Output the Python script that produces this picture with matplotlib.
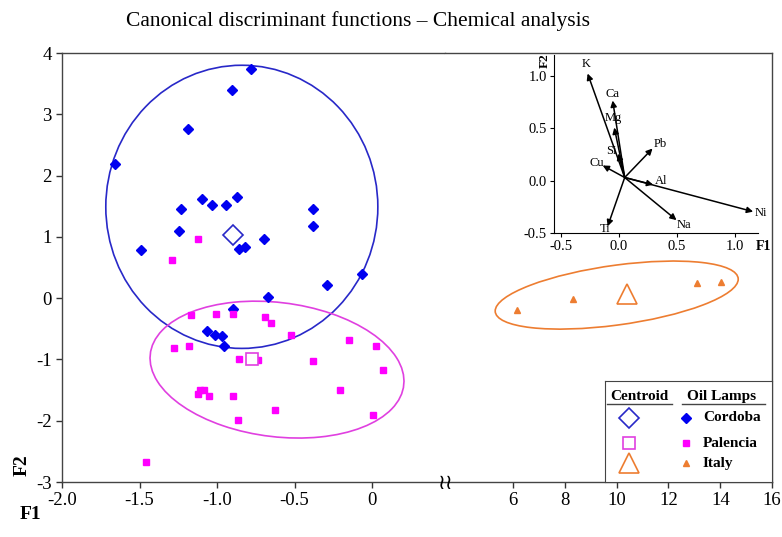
import matplotlib.pyplot as plt
from matplotlib.patches import Ellipse
import numpy as np

plt.rcParams['font.family'] = 'Liberation Serif'
plt.rcParams['axes.unicode_minus'] = False

# Oil lamps, Cordoba (F1, F2)
cordoba_f1 = [-0.781, -0.905, -1.185, -1.658, -1.097, -1.032, -0.944, -0.869, -1.230, -0.379,
              -0.379, -1.245, -0.699, -0.856, -0.817, -1.492, -0.062, -0.288, -0.671, -0.895,
              -1.062, -1.013, -0.970, -0.955]
cordoba_f2 = [3.747, 3.397, 2.757, 2.191, 1.610, 1.517, 1.517, 1.643, 1.447, 1.452,
              1.175, 1.098, 0.957, 0.804, 0.837, 0.778, 0.386, 0.212, 0.011, -0.175,
              -0.538, -0.604, -0.615, -0.783]

# Oil lamps, Palencia
palencia_f1 = [-1.123, -1.288, -1.168, -1.008, -0.895, -0.690, -0.654, -0.525, -1.275, -1.181,
               -0.856, -0.734, -0.379, -0.150, 0.026, 0.073, -0.206, -1.110, -1.082, -1.125,
               -1.054, -0.899, -0.626, -0.863, 0.008, -1.458]
palencia_f2 = [0.967, 0.620, -0.277, -0.256, -0.266, -0.310, -0.403, -0.604, -0.811, -0.783,
               -0.990, -1.007, -1.033, -0.685, -0.783, -1.179, -1.506, -1.506, -1.506, -1.571,
               -1.599, -1.599, -1.827, -1.995, -1.909, -2.675]

# Oil lamps, Italy
italy_f1 = [6.15, 8.32, 13.1, 14.03]
italy_f2 = [-0.20, -0.02, 0.24, 0.26]

# group centroids
cent_cordoba = (-0.895, 1.03)
cent_palencia = (-0.776, -0.99)
cent_italy = (10.4, 0.07)

# structure coefficients (inset)
elements = ['K', 'Ca', 'Mg', 'Si', 'Cu', 'Pb', 'Al', 'Ni', 'Na', 'Ti']
elem_f1 = [-0.27, -0.054, -0.04, -0.006, -0.14, 0.29, 0.296, 1.158, 0.497, -0.097]
elem_f2 = [1.023, 0.765, 0.507, 0.258, 0.145, 0.307, -0.039, -0.296, -0.377, -0.436]
lab_f1 = [-0.284, -0.052, -0.049, -0.069, -0.192, 0.353, 0.362, 1.224, 0.560, -0.121]
lab_f2 = [1.113, 0.823, 0.597, 0.281, 0.165, 0.346, 0.0, -0.306, -0.426, -0.461]
origin = (0.05, 0.03)

blue = '#0000F0'
blue_line = '#2828C8'
mag = '#FF00FF'
mag_line = '#E040E0'
orange = '#ED7D31'

fig = plt.figure(figsize=(7.82, 5.37), dpi=100)
axL = fig.add_axes([0.0793, 0.1024, 0.4898, 0.7989])
axR = fig.add_axes([0.5691, 0.1024, 0.4182, 0.7989])

for ax in (axL, axR):
    ax.set_ylim(-3, 4)
    ax.tick_params(direction='out', length=4, width=1, labelsize=13.5, colors='#333333', labelcolor='black')
    for s in ax.spines.values():
        s.set_color('#444444')
        s.set_linewidth(1)

axL.set_xlim(-2.0, 0.471)
axL.set_xticks([-2.0, -1.5, -1.0, -0.5, 0])
axL.set_xticklabels(['-2.0', '-1.5', '-1.0', '-0.5', '0'])
axL.set_yticks(range(-3, 5))
axL.spines['right'].set_visible(False)

axR.set_xlim(3.37, 16)
axR.set_xticks([6, 8, 10, 12, 14, 16])
axR.set_yticks([])
axR.spines['left'].set_visible(False)

# group ellipses
axL.add_patch(Ellipse((-0.84, 1.49), 1.755, 4.62, fill=False, ec=blue_line, lw=1.2))
axL.add_patch(Ellipse((-0.613, -1.166), 1.59, 2.268, angle=14.1, fill=False, ec=mag_line, lw=1.2))
axR.add_patch(Ellipse((10.0, 0.05), 9.40, 0.98, angle=3.2, fill=False, ec=orange, lw=1.2))

axL.plot(cordoba_f1, cordoba_f2, 'D', color=blue, ms=5, ls='none')
axL.plot(palencia_f1, palencia_f2, 's', color=mag, ms=4.5, ls='none')
axR.plot(italy_f1, italy_f2, '^', color=orange, ms=4, ls='none')

axL.plot(*cent_cordoba, 'D', mfc='white', mec=blue_line, mew=1.2, ms=10.5)
axL.plot(*cent_palencia, 's', mfc='white', mec=mag_line, mew=1.2, ms=8)
axR.plot(*cent_italy, '^', mfc='white', mec=orange, mew=1.2, ms=14)

# axis break mark
fig.text(446 / 782, 1 - 483 / 537, '\u2240\u2240', family='DejaVu Sans', fontsize=15,
         ha='center', va='center')

fig.text(0.458, 0.960, 'Canonical discriminant functions \u2013 Chemical analysis',
         fontsize=15.5, ha='center', va='center')
fig.text(0.0384, 0.041, 'F1', fontsize=14, fontweight='bold', ha='center', va='center')
fig.text(0.0281, 0.134, 'F2', fontsize=14, fontweight='bold', ha='center', va='center', rotation=90)

# inset: structure coefficients
axI = fig.add_axes([554 / 782, 1 - 233 / 537, 204 / 782, 178 / 537])
axI.patch.set_alpha(0)
axI.set_xlim(-0.56, 1.2)
axI.set_ylim(-0.5, 1.2)
axI.spines['top'].set_visible(False)
axI.spines['right'].set_visible(False)
axI.set_xticks([-0.5, 0.0, 0.5, 1.0])
axI.set_xticklabels(['-0.5', '0.0', '0.5', '1.0'])
axI.set_yticks([-0.5, 0.0, 0.5, 1.0])
axI.set_yticklabels(['-0.5', '0.0', '0.5', '1.0'])
axI.tick_params(direction='out', length=3, labelsize=10.5, pad=2)
for i, el in enumerate(elements):
    axI.annotate('', xy=(elem_f1[i], elem_f2[i]), xytext=origin,
                 arrowprops=dict(arrowstyle='-|>', color='black', lw=1.1, mutation_scale=9,
                                 shrinkA=0, shrinkB=0))
    axI.text(lab_f1[i], lab_f2[i], el, fontsize=9, ha='center', va='center')
fig.text(545 / 782, 1 - 61 / 537, 'F2', fontsize=9.5, fontweight='bold', rotation=90,
         ha='center', va='center')
fig.text(763 / 782, 1 - 246 / 537, 'F1', fontsize=10, fontweight='bold', ha='center', va='center')

# legend box
axG = fig.add_axes([605 / 782, 55 / 537, 167 / 782, 101 / 537])
axG.set_xlim(0, 1)
axG.set_ylim(0, 1)
axG.set_xticks([])
axG.set_yticks([])
for s in axG.spines.values():
    s.set_color('#444444')
axG.text(0.204, 0.842, 'Centroid', fontsize=11, fontweight='bold', ha='center', va='center')
axG.text(0.70, 0.842, 'Oil Lamps', fontsize=11, fontweight='bold', ha='center', va='center')
axG.plot([0.012, 0.401], [0.772, 0.772], color='#444444', lw=1)
axG.plot([0.461, 0.958], [0.772, 0.772], color='#444444', lw=1)
rows_y = [0.634, 0.386, 0.188]
names = ['Cordoba', 'Palencia', 'Italy']
big = [('D', blue_line, 10.5), ('s', mag_line, 8), ('^', orange, 14)]
small = [('D', blue, 5), ('s', mag, 4.5), ('^', orange, 4)]
for y, nm, b, sm in zip(rows_y, names, big, small):
    axG.plot(0.144, y, b[0], mfc='white', mec=b[1], mew=1.2, ms=b[2])
    axG.plot(0.485, y, sm[0], color=sm[1], ms=sm[2])
    axG.text(0.587, y, nm, fontsize=11, fontweight='bold', ha='left', va='center')

fig.savefig('out.png', dpi=100)
